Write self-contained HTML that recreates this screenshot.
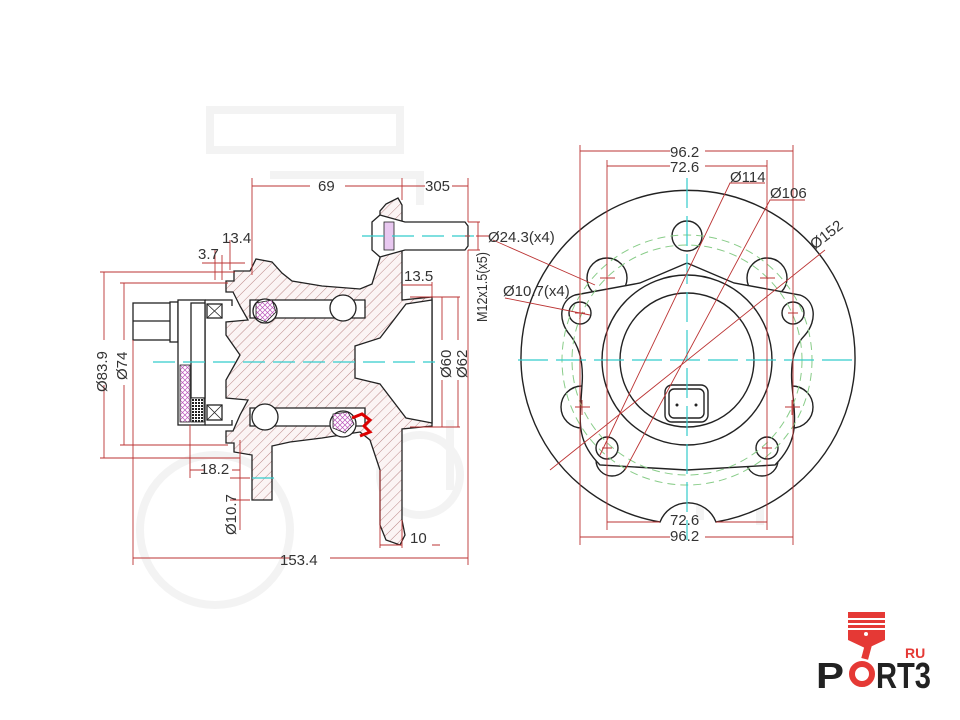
<!DOCTYPE html>
<html><head><meta charset="utf-8"><style>
html,body{margin:0;padding:0;background:#fff}
svg{display:block}
text{font-family:"Liberation Sans",Arial,sans-serif;fill:#333;font-size:15px}
</style></head><body>
<svg width="960" height="720" viewBox="0 0 960 720" xmlns="http://www.w3.org/2000/svg">
<defs>
<pattern id="h" width="7" height="7" patternUnits="userSpaceOnUse" patternTransform="rotate(45)">
<rect width="7" height="7" fill="#fbf4f4"/><line x1="0" y1="0" x2="0" y2="7" stroke="#b88" stroke-width="1"/></pattern>
<pattern id="x" width="5" height="5" patternUnits="userSpaceOnUse">
<rect width="5" height="5" fill="#fff"/><path d="M0 0L5 5M5 0L0 5" stroke="#b5b" stroke-width="0.7"/></pattern>
<pattern id="d" width="3" height="3" patternUnits="userSpaceOnUse">
<rect width="3" height="3" fill="#fff"/><rect width="2" height="2" fill="#222"/></pattern>
</defs>

<!-- faint watermark -->
<g fill="none" stroke="#f3f3f3" stroke-width="8">
<path d="M210 110H400V150H210Z"/><path d="M270 175H420V205"/>
<circle cx="215" cy="530" r="75"/><circle cx="420" cy="475" r="40"/>
<path d="M450 420V490M700 460V520M760 470V525"/>
</g>

<!-- ===== LEFT VIEW ===== -->
<g stroke="#222" stroke-width="1.3">
<path fill="url(#h)" d="M226 292 L226 281 L234 281 L234 271 L250 271 L256 259 L272 262 L282 273 L292 281 L322 286 L360 289 L372 284 L380 258 L380 211 L386 204 L398 198 L402 205 L402 300 L432 297 L432 426 L402 429 L402 520 L405 535 L400 545 L386 540 L380 525 L380 470 L370 440 L360 432 L322 438 L290 442 L272 446 L272 500 L252 500 L252 455 L234 452 L234 443 L226 443 L226 431 L233 431 L240 415 L248 400 L226 398 L226 380 L240 355 L226 335 L226 322 L248 320 L240 306 L233 292 Z"/>
<path fill="#fff" d="M432 300 L406 304 L380 338 L355 346 L355 378 L380 384 L406 418 L432 423 Z"/>
<path fill="#fff" d="M250 300 H365 V318 H250 Z"/>
<path fill="#fff" d="M250 408 H365 V426 H250 Z"/>
<circle cx="265" cy="311" r="12" fill="#fff"/>
<circle cx="343" cy="308" r="13" fill="#fff"/>
<circle cx="265" cy="417" r="13" fill="#fff"/>
<circle cx="343" cy="424" r="13" fill="#fff"/>
<path d="M256 303 L272 300 L276 312 L266 322 L256 318Z" fill="url(#x)" stroke-width="0.8"/>
<path d="M333 414 L348 412 L354 424 L345 433 L333 428Z" fill="url(#x)" stroke-width="0.8"/>
<path fill="#fff" d="M372 222 L380 215 L405 222 L465 222 L468 226 L468 246 L465 250 L405 250 L380 257 L372 250Z"/>
<rect x="384" y="222" width="10" height="28" fill="#e8c8f0" stroke-width="0.8"/>
<rect x="133" y="303" width="40" height="37" fill="#fff"/>
<line x1="133" y1="321" x2="173" y2="321"/>
<rect x="170" y="302" width="8" height="40" fill="#fff"/>
<rect x="178" y="300" width="27" height="125" fill="#fff"/>
<rect x="191" y="303" width="14" height="95" fill="#fff"/>
<rect x="180" y="365" width="10" height="57" fill="url(#x)" stroke-width="0.8"/>
<rect x="191" y="398" width="13" height="24" fill="url(#d)" stroke-width="0.8"/>
<rect x="207" y="304" width="15" height="14" fill="#fff"/>
<path d="M207 304L222 318M222 304L207 318" stroke-width="0.8"/>
<rect x="207" y="405" width="15" height="15" fill="#fff"/>
<path d="M207 405L222 420M222 405L207 420" stroke-width="0.8"/>
<path d="M205 300 H232 V306 M205 425 H232 V420" fill="none"/>
</g>
<path d="M352 418 L362 414 L370 420 L364 426 L370 432 L360 436" fill="none" stroke="#d00" stroke-width="3"/>

<g stroke="#3cc" stroke-width="1.2" stroke-dasharray="22 8">
<line x1="153" y1="362" x2="435" y2="362"/>
<line x1="362" y1="236" x2="480" y2="236"/>
<line x1="252" y1="478" x2="275" y2="478"/>
</g>

<g stroke="#b33" stroke-width="0.9" fill="none">
<path d="M252 178V275M402 178V200M468 178V222"/>
<path d="M252 186H310M345 186H402M402 186H425M452 186H468"/>
<path d="M100 272H235M100 458H240M120 283H228M120 445H228"/>
<path d="M104 272V340M104 385V458M124 283V340M124 385V445"/>
<path d="M133 340V565M468 250V565M133 558H290M330 558H468"/>
<path d="M230 240V270M222 255V280M202 263H245M215 250V280"/>
<path d="M402 285H432M432 282V297"/>
<path d="M410 297H460M410 427H460M442 297V340M442 380V427M458 297V340M458 380V427"/>
<path d="M190 425V478M190 470H205M232 470H240M240 440V530M230 478H250M230 500H250"/>
<path d="M380 470V548M380 545H402M432 545H440M402 520V548"/>
<path d="M468 222H480M468 250H480M478 222V250"/>
<path d="M476 236H490M465 236H470"/>
</g>
<g>
<text x="318" y="191">69</text>
<text x="425" y="191">305</text>
<text x="222" y="243" font-size="14">13.4</text>
<text x="198" y="259" font-size="14">3.7</text>
<text x="404" y="281" font-size="14">13.5</text>
<text x="200" y="474" font-size="14">18.2</text>
<text x="410" y="543" font-size="14">10</text>
<text x="280" y="565">153.4</text>
<text transform="translate(107,392) rotate(-90)">Ø83.9</text>
<text transform="translate(127,380) rotate(-90)">Ø74</text>
<text transform="translate(451,378) rotate(-90)">Ø60</text>
<text transform="translate(467,378) rotate(-90)">Ø62</text>
<text transform="translate(487,322) rotate(-90)" font-size="11" textLength="70" lengthAdjust="spacingAndGlyphs">M12x1.5(x5)</text>
<text transform="translate(236,535) rotate(-90)" font-size="14">Ø10.7</text>
</g>

<!-- ===== RIGHT VIEW ===== -->
<g fill="none" stroke="#222" stroke-width="1.4">
<path d="M660 522 A167 167 0 1 1 716 522 A30 30 0 0 0 660 522 Z" fill="#fff"/>
<circle cx="687" cy="236" r="15"/>
<circle cx="607" cy="278" r="20"/><circle cx="767" cy="278" r="20"/>
<circle cx="582" cy="407" r="21"/><circle cx="792" cy="407" r="21"/>
<circle cx="612" cy="460" r="16"/><circle cx="762" cy="460" r="16"/>
<path fill="#fff" d="M575 295 L640 283 L687 263 L734 283 L800 295 C815 300 818 320 805 335 C795 345 790 360 792 385 C795 420 800 440 775 465 L687 470 L600 465 C575 440 580 420 582 385 C584 360 578 345 570 335 C557 320 560 300 575 295Z"/>
<circle cx="580" cy="313" r="11" fill="#fff"/><circle cx="793" cy="313" r="11" fill="#fff"/>
<circle cx="607" cy="448" r="11" fill="#fff"/><circle cx="767" cy="448" r="11" fill="#fff"/>
<circle cx="687" cy="360" r="85" fill="#fff"/>
<circle cx="687" cy="360" r="67"/>
<rect x="665" y="385" width="43" height="37" rx="7" fill="#fff"/>
<rect x="669" y="389" width="35" height="29" rx="5"/>
</g>
<circle cx="677" cy="405" r="1.5" fill="#222"/><circle cx="696" cy="405" r="1.5" fill="#222"/>
<g fill="none" stroke="#8c8" stroke-width="1" stroke-dasharray="8 5">
<circle cx="687" cy="360" r="125"/><circle cx="687" cy="360" r="115"/>
</g>
<g stroke="#3cc" stroke-width="1.2" stroke-dasharray="30 8">
<line x1="518" y1="360" x2="855" y2="360"/>
<line x1="687" y1="178" x2="687" y2="540"/>
</g>
<g stroke="#b33" stroke-width="0.9" fill="none">
<path d="M580 145V545M793 145V545M607 160V530M767 160V530"/>
<path d="M580 151H670M705 151H793M607 166H670M705 166H767"/>
<path d="M580 537H670M705 537H793M607 522H660M716 522H767"/>
<path d="M600 455L730 183H765M625 470L770 200H805M550 470L825 250"/>
<path d="M493 240L595 285M505 298L590 315"/>
<path d="M575 313H585M580 308V318M788 313H798M793 308V318M602 448H612M607 443V453M762 448H772M767 443V453"/>
<path d="M575 407H590M582 400V415M785 407H800M792 400V415M600 278H615M607 270V285M760 278H775M767 270V285"/>
</g>
<g>
<text x="670" y="157">96.2</text>
<text x="670" y="172">72.6</text>
<text x="730" y="182" font-size="14">Ø114</text>
<text x="770" y="198" font-size="14">Ø106</text>
<text transform="translate(815,250) rotate(-38)" font-size="14">Ø152</text>
<text x="670" y="525">72.6</text>
<text x="670" y="541">96.2</text>
<text x="488" y="242" font-size="13">Ø24.3(x4)</text>
<text x="503" y="296" font-size="13">Ø10.7(x4)</text>
</g>

<!-- logo -->
<g fill="#e53935">
<rect x="848" y="612" width="37" height="6"/>
<rect x="848" y="620" width="37" height="3"/>
<rect x="848" y="625" width="37" height="3"/>
<path d="M848 630H885V640L868 648H865L848 640Z"/>
<rect x="863" y="645" width="7" height="14" transform="rotate(15 866 652)"/>
</g>
<circle cx="866" cy="634" r="2" fill="#fff"/>
<circle cx="862" cy="674" r="10" fill="none" stroke="#e53935" stroke-width="6"/>
<text x="905" y="658" style="fill:#e53935;font-weight:bold;font-size:14px">RU</text>
<text x="816" y="688" style="fill:#222;font-weight:bold;font-size:36px" textLength="28" lengthAdjust="spacingAndGlyphs">P</text>
<text x="876" y="688" style="fill:#222;font-weight:bold;font-size:36px" textLength="55" lengthAdjust="spacingAndGlyphs">RT3</text>
</svg>
</body></html>
